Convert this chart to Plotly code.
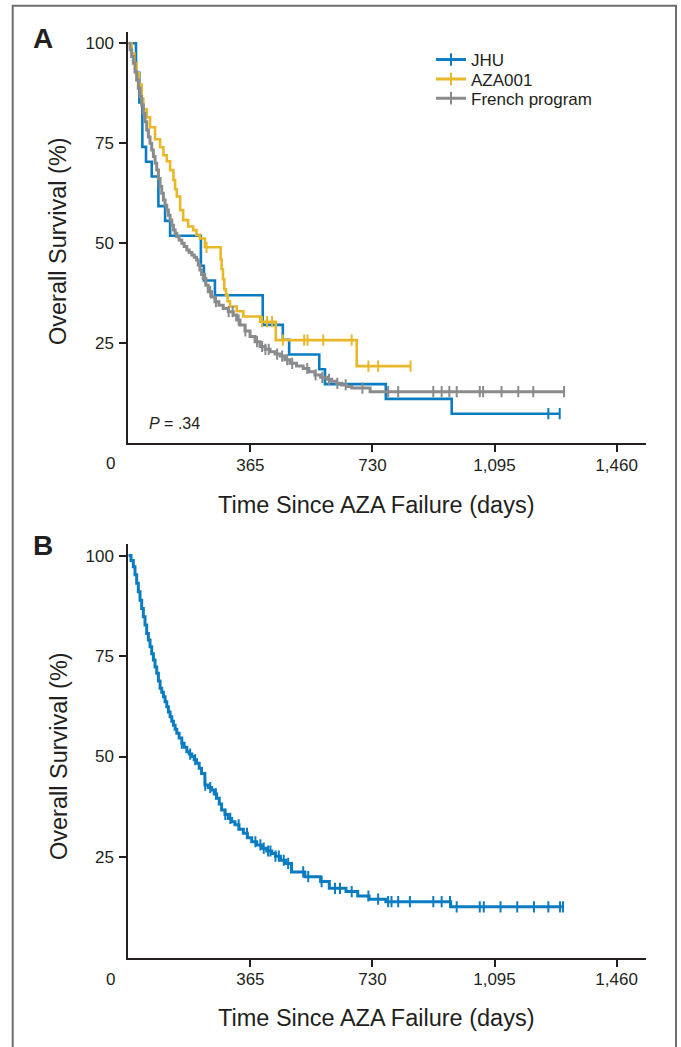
import plotly.graph_objects as go

# ---------------- data ----------------
# Panel A : JHU
JHU_T = [0, 23, 33, 42, 53, 70, 90, 110, 125, 217, 226, 259, 402, 462, 481, 571, 588, 770, 967, 1290]
JHU_S = [100, 92.6, 85.2, 74.1, 70.4, 66.7, 59.3, 55.6, 51.9, 44.4, 40.7, 37.0, 29.6, 25.9, 22.2,
         18.5, 14.8, 11.1, 7.4, 7.4]
JHU_CENSOR = [1256, 1290]

# Panel A : AZA001
AZA_T = [0, 10, 18, 25, 32, 40, 45, 55, 65, 80, 95, 105, 115, 125, 135, 140, 145, 155, 164, 179,
         194, 204, 214, 229, 276, 279, 283, 287, 292, 297, 304, 324, 344, 394, 441, 683, 844]
AZA_S = [100, 97.5, 95, 92.5, 89.7, 86.2, 83.5, 81.5, 79.0, 76.0, 74.0, 72.0, 70.5, 68.3, 65.8,
         63.5, 61.7, 58.3, 55.8, 54.2, 53.3, 52.1, 51.2, 49.0, 46.0, 43.5, 41.0, 38.5, 37.1, 35.5,
         34.2, 33.0, 31.7, 30.4, 25.8, 19.3, 19.3]
AZA_CENSOR = [234, 400, 415, 430, 462, 526, 536, 583, 668, 718, 747, 844]

# Panel A : French program
FR_T = [0, 5, 10, 15, 20, 25, 30, 35, 40, 45, 50, 55, 60, 65, 70, 75, 80, 85, 90, 95,
        100, 105, 110, 115, 120, 125, 130, 135, 140, 145, 152, 160, 167, 175, 182, 190, 197, 204, 209, 214,
        219, 224, 232, 239, 249, 259, 271, 284, 299, 314, 324, 334, 349, 364, 379, 394, 409, 424, 439, 454,
        468, 483, 503, 523, 540, 558, 575, 593, 608, 623, 638, 653, 668, 723, 1303]
FR_S = [100, 98.4, 96.7, 95, 92.9, 90.8, 88.7, 86.7, 84.6, 82.5, 80.4, 78.3, 76.6, 75, 73.3, 71.7,
        70, 68.3, 66.2, 64.2, 62.5, 60.8, 59.5, 58.3, 57, 55.8, 54.5, 53.3, 52.5, 51.7, 50.8, 50,
        49.2, 48.3, 47.7, 47.1, 46.5, 45.8, 44.6, 43.3, 42.2, 41.2, 39.5, 37.9, 36.6, 35.4, 34.5,
        33.7, 32.9, 32.1, 30.8, 29.6, 28.1, 26.7, 25.4, 24.2, 23.5, 22.9, 22.3, 21.8, 20.9, 20.0,
        19.3, 18.7, 17.9, 17.1, 16.5, 16.0, 15.5, 15.0, 14.6, 14.2, 13.8, 12.9, 12.9]
FR_CENSOR = [230, 245, 262, 300, 312, 330, 350, 385, 400, 410, 420, 445, 460, 475, 490, 535, 560,
             580, 600, 625, 650, 700, 777, 807, 912, 937, 960, 982, 1051, 1061, 1116, 1166, 1211, 1303]

# Panel B : pooled
B_T = [0, 8, 15, 20, 25, 30, 35, 40, 45, 50, 55, 60, 65, 70, 75, 80, 85, 90, 95, 100,
       105, 110, 115, 120, 125, 130, 135, 140, 145, 152, 160, 167, 175, 182, 190, 197, 204, 212, 219, 229,
       239, 249, 257, 264, 272, 279, 289, 299, 309, 319, 331, 344, 356, 369, 384, 399, 414, 429, 440, 455,
       470, 488, 528, 575, 601, 651, 686, 720, 770, 964, 1300]
B_S = [100, 98.8, 97.2, 95.2, 93.1, 91, 88.9, 86.8, 84.8, 82.7, 80.6, 79, 77.3, 75.6, 74, 72.3,
       70.7, 68.8, 67, 66, 64.9, 63.6, 62.4, 61.1, 59.9, 58.8, 57.8, 56.8, 55.8, 54.6, 53.3, 52.3,
       51.2, 50.6, 50, 49.2, 48.3, 47.1, 45.8, 42.9, 42.3, 41.7, 40.7, 39.6, 38.2, 36.7, 35.6, 34.6,
       33.8, 33, 31.9, 30.9, 29.8, 28.8, 28, 27.2, 26.5, 25.9, 25.2, 24.2, 23.4, 21.3, 20.1, 18.9,
       17.2, 16.4, 15.3, 14.5, 13.9, 12.6, 12.6]
B_CENSOR = [160, 185, 200, 230, 245, 262, 290, 305, 330, 355, 380, 395, 405, 418, 425, 440, 450,
            465, 478, 523, 538, 578, 618, 633, 668, 718, 747, 777, 787, 807, 842, 912, 937, 962,
            982, 1051, 1063, 1113, 1163, 1213, 1256, 1291, 1300]

X_TICKS = [365, 730, 1095, 1460]
X_TICKTEXT = ["365", "730", "1,095", "1,460"]
Y_TICKS = [25, 50, 75, 100]
LEGEND_NAMES = ["JHU", "AZA001", "French program"]

# ---------------- styling ----------------
BLUE = "#0a7cc1"
YELLOW = "#e8b828"
GRAY = "#8a8b8d"
INK = "#231f20"
FONT = "Liberation Sans, Arial, sans-serif"
W, H = 681, 1047


def step_at(T, S, t):
    v = S[0]
    for ti, si in zip(T, S):
        if ti <= t:
            v = si
    return v


def px(x):
    return x / W


def py(y):
    return 1 - y / H


fig = go.Figure()


def add_curve(T, S, C, color, width, xa, ya):
    fig.add_trace(go.Scatter(x=T, y=S, mode="lines", line=dict(color=color, width=width, shape="hv"),
                             xaxis=xa, yaxis=ya, showlegend=False, hoverinfo="skip"))
    fig.add_trace(go.Scatter(x=C, y=[step_at(T, S, c) for c in C], mode="markers",
                             marker=dict(symbol="line-ns", size=8,
                                         line=dict(color=color, width=2)),
                             xaxis=xa, yaxis=ya, showlegend=False, hoverinfo="skip"))


add_curve(JHU_T, JHU_S, JHU_CENSOR, BLUE, 2.6, "x", "y")
add_curve(AZA_T, AZA_S, AZA_CENSOR, YELLOW, 2.6, "x", "y")
add_curve(FR_T, FR_S, FR_CENSOR, GRAY, 3, "x", "y")
add_curve(B_T, B_S, B_CENSOR, BLUE, 3, "x2", "y2")

# legend entries, one legend per row for exact placement
LEG_IDS = ["legend", "legend2", "legend3"]
LEG_ROWS = [60, 79.4, 98.6]
for name, color, lid in zip(LEGEND_NAMES, [BLUE, YELLOW, GRAY], LEG_IDS):
    fig.add_trace(go.Scatter(x=[None], y=[None], mode="lines+markers", name=name,
                             line=dict(color=color, width=3),
                             marker=dict(symbol="line-ns", size=9, line=dict(color=color, width=2)),
                             xaxis="x", yaxis="y", legend=lid))

leg_style = dict(font=dict(family=FONT, size=17, color=INK), bgcolor="rgba(0,0,0,0)",
                 itemwidth=30, xanchor="left", yanchor="middle", borderwidth=0)
legend_layout = {}
for lid, yr in zip(LEG_IDS, LEG_ROWS):
    legend_layout[lid] = dict(x=px(431), y=py(yr), **leg_style)

XDOM = [px(128.3), px(646)]
axis_common = dict(showline=True, linecolor=INK, linewidth=2, ticks="outside", ticklen=7,
                   tickwidth=1.5, tickcolor=INK, showgrid=False, zeroline=False,
                   tickfont=dict(family=FONT, size=17, color=INK))

fig.update_layout(
    width=W, height=H, margin=dict(l=0, r=0, t=0, b=0),
    paper_bgcolor="white", plot_bgcolor="white",
    xaxis=dict(domain=XDOM, range=[0, 1548], tickvals=X_TICKS, ticktext=X_TICKTEXT,
               anchor="y", ticklabelstandoff=-2, **axis_common),
    yaxis=dict(domain=[py(443.3), py(32.3)], range=[0, 102.75], tickvals=Y_TICKS,
               anchor="x", ticklabelstandoff=2, **axis_common),
    xaxis2=dict(domain=XDOM, range=[0, 1548], tickvals=X_TICKS, ticktext=X_TICKTEXT,
                anchor="y2", ticklabelstandoff=-2, **axis_common),
    yaxis2=dict(domain=[py(957.5), py(544.3)], range=[0, 102.8], tickvals=Y_TICKS,
                anchor="x2", ticklabelstandoff=2, **axis_common),
    showlegend=True,
    **legend_layout,
)

ann = []
for lab, yc in [("A", 38.3), ("B", 545.5)]:
    ann.append(dict(text=f"<b>{lab}</b>", x=px(30.5), y=py(yc), xref="paper", yref="paper",
                    xanchor="left", yanchor="middle", showarrow=False,
                    font=dict(family=FONT, size=28, color=INK)))
for yc in [463.7, 979.5]:
    ann.append(dict(text="0", x=px(110), y=py(yc), xref="paper", yref="paper",
                    xanchor="center", yanchor="middle", showarrow=False,
                    font=dict(family=FONT, size=17, color=INK)))
for yc in [504.5, 1017.5]:
    ann.append(dict(text="Time Since AZA Failure (days)", x=px(376), y=py(yc), xref="paper",
                    yref="paper", xanchor="center", yanchor="middle", showarrow=False,
                    font=dict(family=FONT, size=23.5, color=INK)))
for yc in [241.5, 756.5]:
    ann.append(dict(text="Overall Survival (%)", x=px(58.5), y=py(yc), xref="paper",
                    yref="paper", xanchor="center", yanchor="middle", showarrow=False,
                    textangle=-90, font=dict(family=FONT, size=23.5, color=INK)))
ann.append(dict(text="<i>P</i> = .34", x=px(147), y=py(423.3), xref="paper", yref="paper",
                xanchor="left", yanchor="middle", showarrow=False,
                font=dict(family=FONT, size=16, color=INK)))
fig.update_layout(annotations=ann)

fig.add_shape(type="rect", xref="paper", yref="paper", x0=px(12.7), x1=px(676), y0=-0.05,
              y1=py(5.7), line=dict(color="#6d6e71", width=2), fillcolor="rgba(0,0,0,0)",
              layer="below")

fig.write_html("out.html", config={"displayModeBar": False},
               post_script="document.body.style.margin='0';document.body.style.overflow='hidden';")
